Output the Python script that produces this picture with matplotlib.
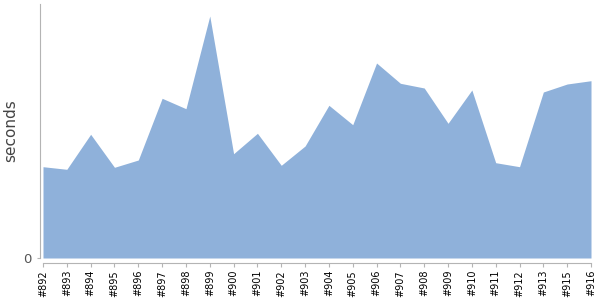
import matplotlib
matplotlib.use('Agg')
import matplotlib.pyplot as plt

builds = ['#892', '#893', '#894', '#895', '#896', '#897', '#898', '#899',
          '#900', '#901', '#902', '#903', '#904', '#905', '#906', '#907',
          '#908', '#909', '#910', '#911', '#912', '#913', '#915', '#916']
seconds = [91.3, 88.7, 123.7, 90.7, 98.0, 159.7, 149.3, 242.0,
           104.3, 124.7, 92.7, 112.0, 152.7, 133.3, 195.0, 174.7,
           170.0, 134.7, 168.0, 95.3, 91.3, 166.0, 174.0, 177.3]

FILL = '#8fb1da'
GREY = '#b4b4b4'

fig = plt.figure(figsize=(6, 3), dpi=100)
# axes box in pixels: x 43..591, y 4..258 (from top)
ax = fig.add_axes([43 / 600, 42 / 300, 548 / 600, 254 / 300])

x = list(range(len(builds)))
ax.fill_between(x, 0, seconds, color=FILL, linewidth=0)

ax.set_xlim(0, len(builds) - 1)
ax.set_ylim(0, 254)

for side in ['top', 'right']:
    ax.spines[side].set_visible(False)
ax.spines['left'].set_position(('outward', 2.2))
ax.spines['bottom'].set_position(('outward', 3.6))
ax.spines['left'].set_color(GREY)
ax.spines['bottom'].set_color(GREY)

ax.set_xticks(x)
ax.set_xticklabels(builds, rotation=90, fontsize=7, color='black')
ax.set_yticks([0])
ax.set_yticklabels(['0'], fontsize=9.5, color='#555555')
ax.tick_params(axis='x', length=3, color=GREY, pad=2)
ax.tick_params(axis='y', length=2, color=GREY, pad=4)

ax.set_ylabel('seconds', fontsize=11, color='#444444')
ax.yaxis.set_label_coords(-0.046, 0.5)

fig.savefig('out.png', dpi=100)
